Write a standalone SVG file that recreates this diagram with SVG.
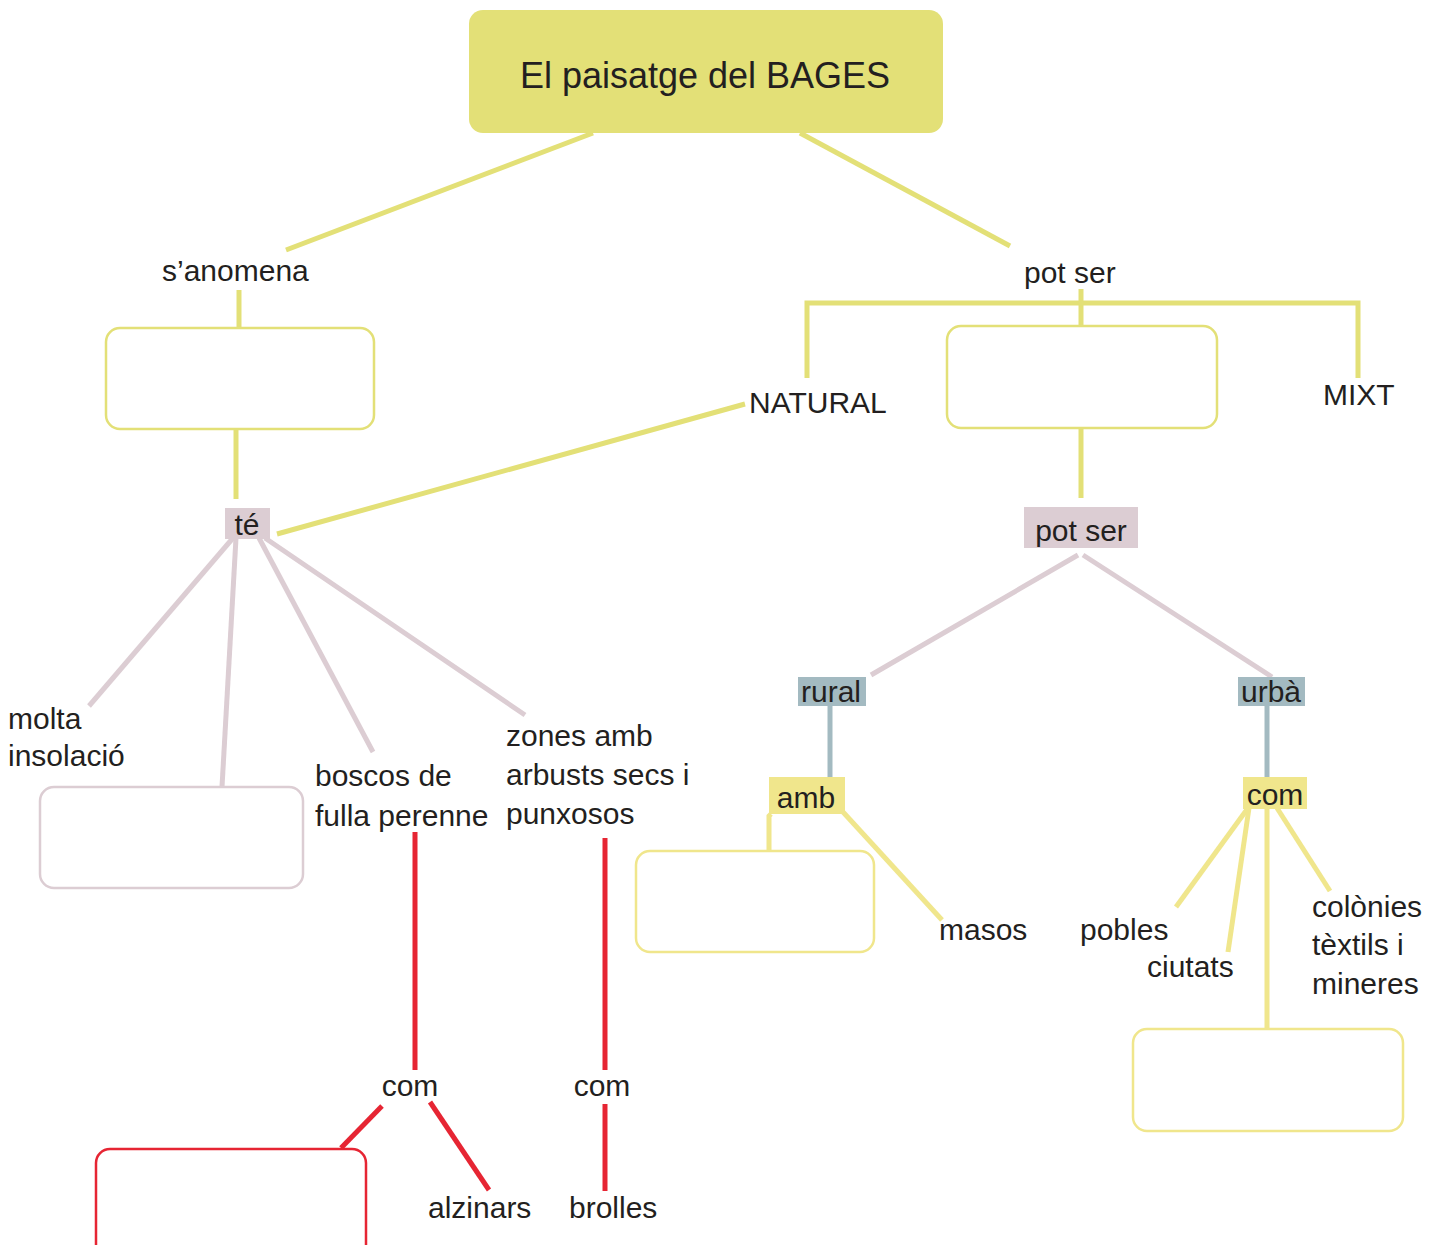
<svg xmlns="http://www.w3.org/2000/svg" width="1441" height="1245" viewBox="0 0 1441 1245">
<style>
text{font-family:"Liberation Sans","Noto Sans",sans-serif;font-size:30px;fill:#231f20}
.title{font-size:36px}
.y{stroke:#e3e077;stroke-width:5;fill:none}
.ly{stroke:#f0e68c;stroke-width:5;fill:none}
.p{stroke:#dccdd3;stroke-width:5;fill:none}
.b{stroke:#a3bac1;stroke-width:5;fill:none}
.r{stroke:#e62533;stroke-width:5;fill:none}
.box{fill:#fff;stroke-width:2.5}
</style>
<rect width="1441" height="1245" fill="#fff"/>
<g id="connectors">
<line class="y" x1="593" y1="133" x2="286" y2="250"/>
<line class="y" x1="800" y1="133" x2="1010" y2="246"/>
<line class="y" x1="239" y1="290" x2="239" y2="328"/>
<line class="y" x1="236" y1="429" x2="236" y2="499"/>
<line class="y" x1="745" y1="404" x2="277" y2="534"/>
<polyline class="y" points="807,378 807,303 1358,303 1358,378"/>
<line class="y" x1="1081" y1="289" x2="1081" y2="326"/>
<line class="y" x1="1081" y1="428" x2="1081" y2="498"/>
<line class="p" x1="1078" y1="555" x2="871" y2="675"/>
<line class="p" x1="1083" y1="555" x2="1272" y2="677"/>
<line class="b" x1="830" y1="706" x2="830" y2="777"/>
<line class="b" x1="1267" y1="706" x2="1267" y2="777"/>
<polyline class="ly" points="771,814 769,816 769,851"/>
<line class="ly" x1="843" y1="812" x2="942" y2="920"/>
<line class="ly" x1="1248" y1="808" x2="1176" y2="907"/>
<line class="ly" x1="1249" y1="808" x2="1228" y2="952"/>
<line class="ly" x1="1267" y1="808" x2="1267" y2="1029"/>
<line class="ly" x1="1277" y1="808" x2="1330" y2="891"/>
<line class="p" x1="233" y1="538" x2="89" y2="706"/>
<line class="p" x1="236" y1="538" x2="222" y2="787"/>
<line class="p" x1="259" y1="538" x2="373" y2="752"/>
<line class="p" x1="265" y1="538" x2="525" y2="715"/>
<line class="r" x1="415" y1="832" x2="415" y2="1070"/>
<line class="r" x1="605" y1="838" x2="605" y2="1070"/>
<line class="r" x1="382" y1="1106" x2="341" y2="1148"/>
<line class="r" x1="430" y1="1102" x2="489" y2="1190"/>
<line class="r" x1="605" y1="1104" x2="605" y2="1191"/>
</g>
<g id="title">
<rect x="469" y="10" width="474" height="123" rx="14" fill="#e3e077"/>
<text class="title" x="705" y="88" text-anchor="middle">El paisatge del BAGES</text>
</g>
<g id="sanomena"><text x="162" y="281">s’anomena</text></g>
<g id="potser1"><text x="1024" y="283">pot ser</text></g>
<g id="box1"><rect class="box" x="106" y="328" width="268" height="101" rx="14" stroke="#e3e077"/></g>
<g id="box2"><rect class="box" x="947" y="326" width="270" height="102" rx="14" stroke="#e3e077"/></g>
<g id="natural"><text x="749" y="413">NATURAL</text></g>
<g id="mixt"><text x="1323" y="405">MIXT</text></g>
<g id="te"><rect x="225" y="508" width="45" height="31" fill="#dccdd3"/><text x="247" y="535" text-anchor="middle">té</text></g>
<g id="potser2"><rect x="1024" y="507" width="114" height="41" fill="#dccdd3"/><text x="1081" y="541" text-anchor="middle">pot ser</text></g>
<g id="rural"><rect x="798" y="677" width="68" height="29" fill="#a3bac1"/><text x="831" y="702" text-anchor="middle">rural</text></g>
<g id="urba"><rect x="1238" y="677" width="67" height="29" fill="#a3bac1"/><text x="1271" y="702" text-anchor="middle">urbà</text></g>
<g id="amb"><rect x="769" y="777" width="76" height="37" fill="#f0e68c"/><text x="806" y="808" text-anchor="middle">amb</text></g>
<g id="com3"><rect x="1243" y="777" width="64" height="32" fill="#f0e68c"/><text x="1275" y="805" text-anchor="middle">com</text></g>
<g id="box3"><rect class="box" x="636" y="851" width="238" height="101" rx="14" stroke="#f0e68c"/></g>
<g id="masos"><text x="939" y="940">masos</text></g>
<g id="pobles"><text x="1080" y="940">pobles</text></g>
<g id="ciutats"><text x="1147" y="977">ciutats</text></g>
<g id="colonies"><text x="1312" y="917">colònies</text><text x="1312" y="955">tèxtils i</text><text x="1312" y="994">mineres</text></g>
<g id="box4"><rect class="box" x="1133" y="1029" width="270" height="102" rx="14" stroke="#f0e68c"/></g>
<g id="molta"><text x="8" y="729">molta</text><text x="8" y="766">insolació</text></g>
<g id="box5"><rect class="box" x="40" y="787" width="263" height="101" rx="14" stroke="#dccdd3"/></g>
<g id="boscos"><text x="315" y="786">boscos de</text><text x="315" y="826">fulla perenne</text></g>
<g id="zones"><text x="506" y="746">zones amb</text><text x="506" y="785">arbusts secs i</text><text x="506" y="824">punxosos</text></g>
<g id="com1"><text x="410" y="1096" text-anchor="middle">com</text></g>
<g id="com2"><text x="602" y="1096" text-anchor="middle">com</text></g>
<g id="alzinars"><text x="428" y="1218">alzinars</text></g>
<g id="brolles"><text x="569" y="1218">brolles</text></g>
<g id="box6"><rect class="box" x="96" y="1149" width="270" height="110" rx="14" stroke="#e62533"/></g>
</svg>
